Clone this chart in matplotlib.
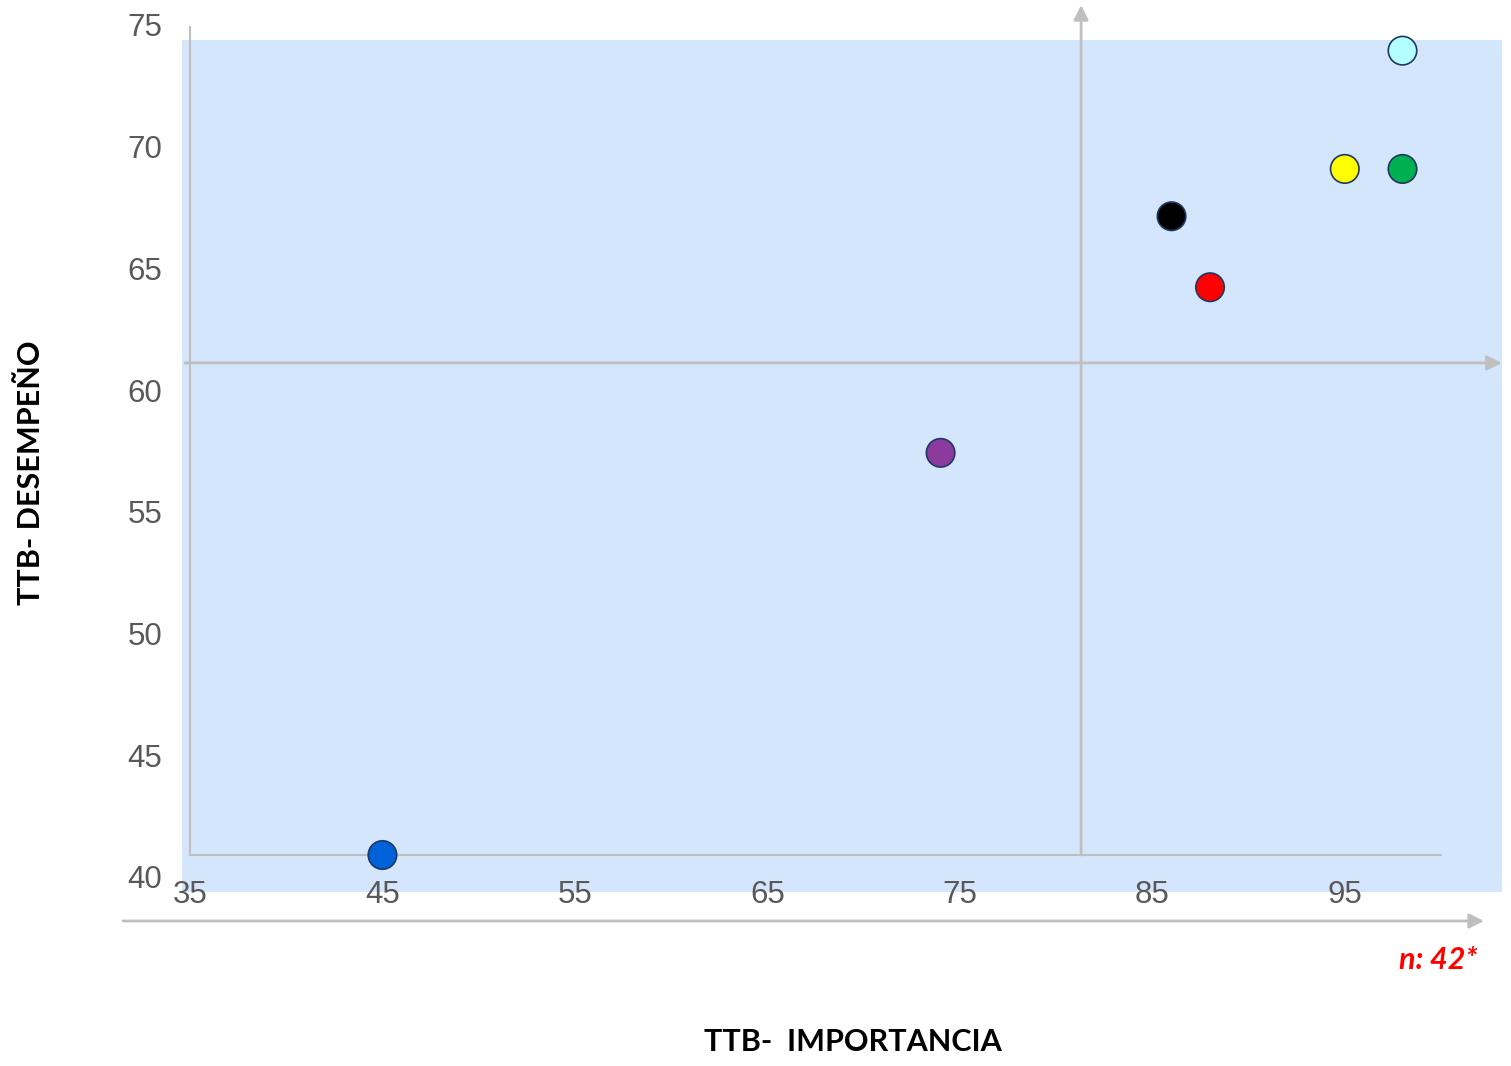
import matplotlib
matplotlib.use("Agg")
import matplotlib.pyplot as plt
from matplotlib.patches import Rectangle, FancyArrowPatch

# ---- data ----
importancia = [45, 74, 86, 88, 95, 98, 98]
desempeno = [40, 57, 67, 64, 69, 69, 74]
point_colors = ["#0062D9", "#8B3A9E", "#000000", "#FF0000", "#FFFF00", "#00B050", "#B3FFFF"]
x_ticks = [35, 45, 55, 65, 75, 85, 95]
y_ticks = [40, 45, 50, 55, 60, 65, 70, 75]
cross_x = 81.3   # vertical reference line (importancia)
cross_y = 60.8   # horizontal reference line (desempeño)
x_label = "TTB-  IMPORTANCIA"
y_label = "TTB- DESEMPEÑO"
note = "n: 42*"

W, H = 1511, 1066
fig = plt.figure(figsize=(W / 100, H / 100), dpi=100)

def fx(px):
    return px / W

def fy(py):
    return 1 - py / H

# y tick labels live on their own scale (as in the reference, spread slightly wider)
ax_lab = fig.add_axes([fx(190), fy(877), fx(1441) - fx(190), fy(25) - fy(877)])
ax_lab.set_ylim(40, 75)
ax_lab.set_yticks(y_ticks)
ax_lab.set_yticklabels([str(v) for v in y_ticks])
ax_lab.set_xticks([])
ax_lab.set_facecolor("none")
for s in ax_lab.spines.values():
    s.set_visible(False)
ax_lab.tick_params(axis="y", length=0, pad=20, labelsize=22.5, labelcolor="#595959")
for lab in ax_lab.get_yticklabels():
    lab.set_fontfamily("Liberation Sans")

ax = fig.add_axes([fx(190), fy(855), fx(1441) - fx(190), fy(27) - fy(855)])
ax.set_facecolor("none")
ax.set_xlim(35, 100)
ax.set_ylim(40, 75)

# light-blue background panel (behind everything in the axes)
bg = Rectangle((fx(182), fy(892)), fx(1502) - fx(182), fy(40) - fy(892),
               transform=fig.transFigure, facecolor="#D4E6FC", edgecolor="none",
               zorder=-10, clip_on=False)
ax.add_patch(bg)

grey = "#BFBFBF"
for s in ["top", "right"]:
    ax.spines[s].set_visible(False)
for s in ["left", "bottom"]:
    ax.spines[s].set_color(grey)
    ax.spines[s].set_linewidth(1.5)

ax.set_xticks(x_ticks)
ax.set_xticklabels([str(v) for v in x_ticks])
ax.tick_params(axis="x", length=0, pad=18, labelsize=22.5, labelcolor="#595959")
for lab in ax.get_xticklabels():
    lab.set_fontfamily("Liberation Sans")
ax.set_yticks([])

# crosshair arrows
arrow_kw = dict(arrowstyle="-|>", color=grey, lw=2, mutation_scale=22, shrinkA=0, shrinkB=0)
ax.annotate("", xy=(cross_x, 75.93), xytext=(cross_x, 40), xycoords="data",
            arrowprops=arrow_kw, annotation_clip=False)
ax.annotate("", xy=(103.16, cross_y), xytext=(34.74, cross_y), xycoords="data",
            arrowprops=arrow_kw, annotation_clip=False)

# bottom arrow
fig.add_artist(FancyArrowPatch((fx(123), fy(921)), (fx(1484), fy(921)),
               transform=fig.transFigure, **arrow_kw))

# points
ax.scatter(importancia, desempeno, s=420, c=point_colors, edgecolors="#1F3864",
           linewidths=1.2, zorder=5, clip_on=False)

# labels
fig.text(fx(853), fy(1042), x_label, ha="center", va="center", fontsize=22,
         fontweight="bold", family="Lato", color="black")
fig.text(fx(31), fy(473), y_label, ha="center", va="center", rotation=90, fontsize=22,
         fontweight="bold", family="Lato", color="black")
fig.text(fx(1478), fy(960), note, ha="right", va="center", fontsize=22,
         fontweight="bold", fontstyle="italic", family="Lato", color="#FF0000")

fig.savefig("out.png", dpi=100)
